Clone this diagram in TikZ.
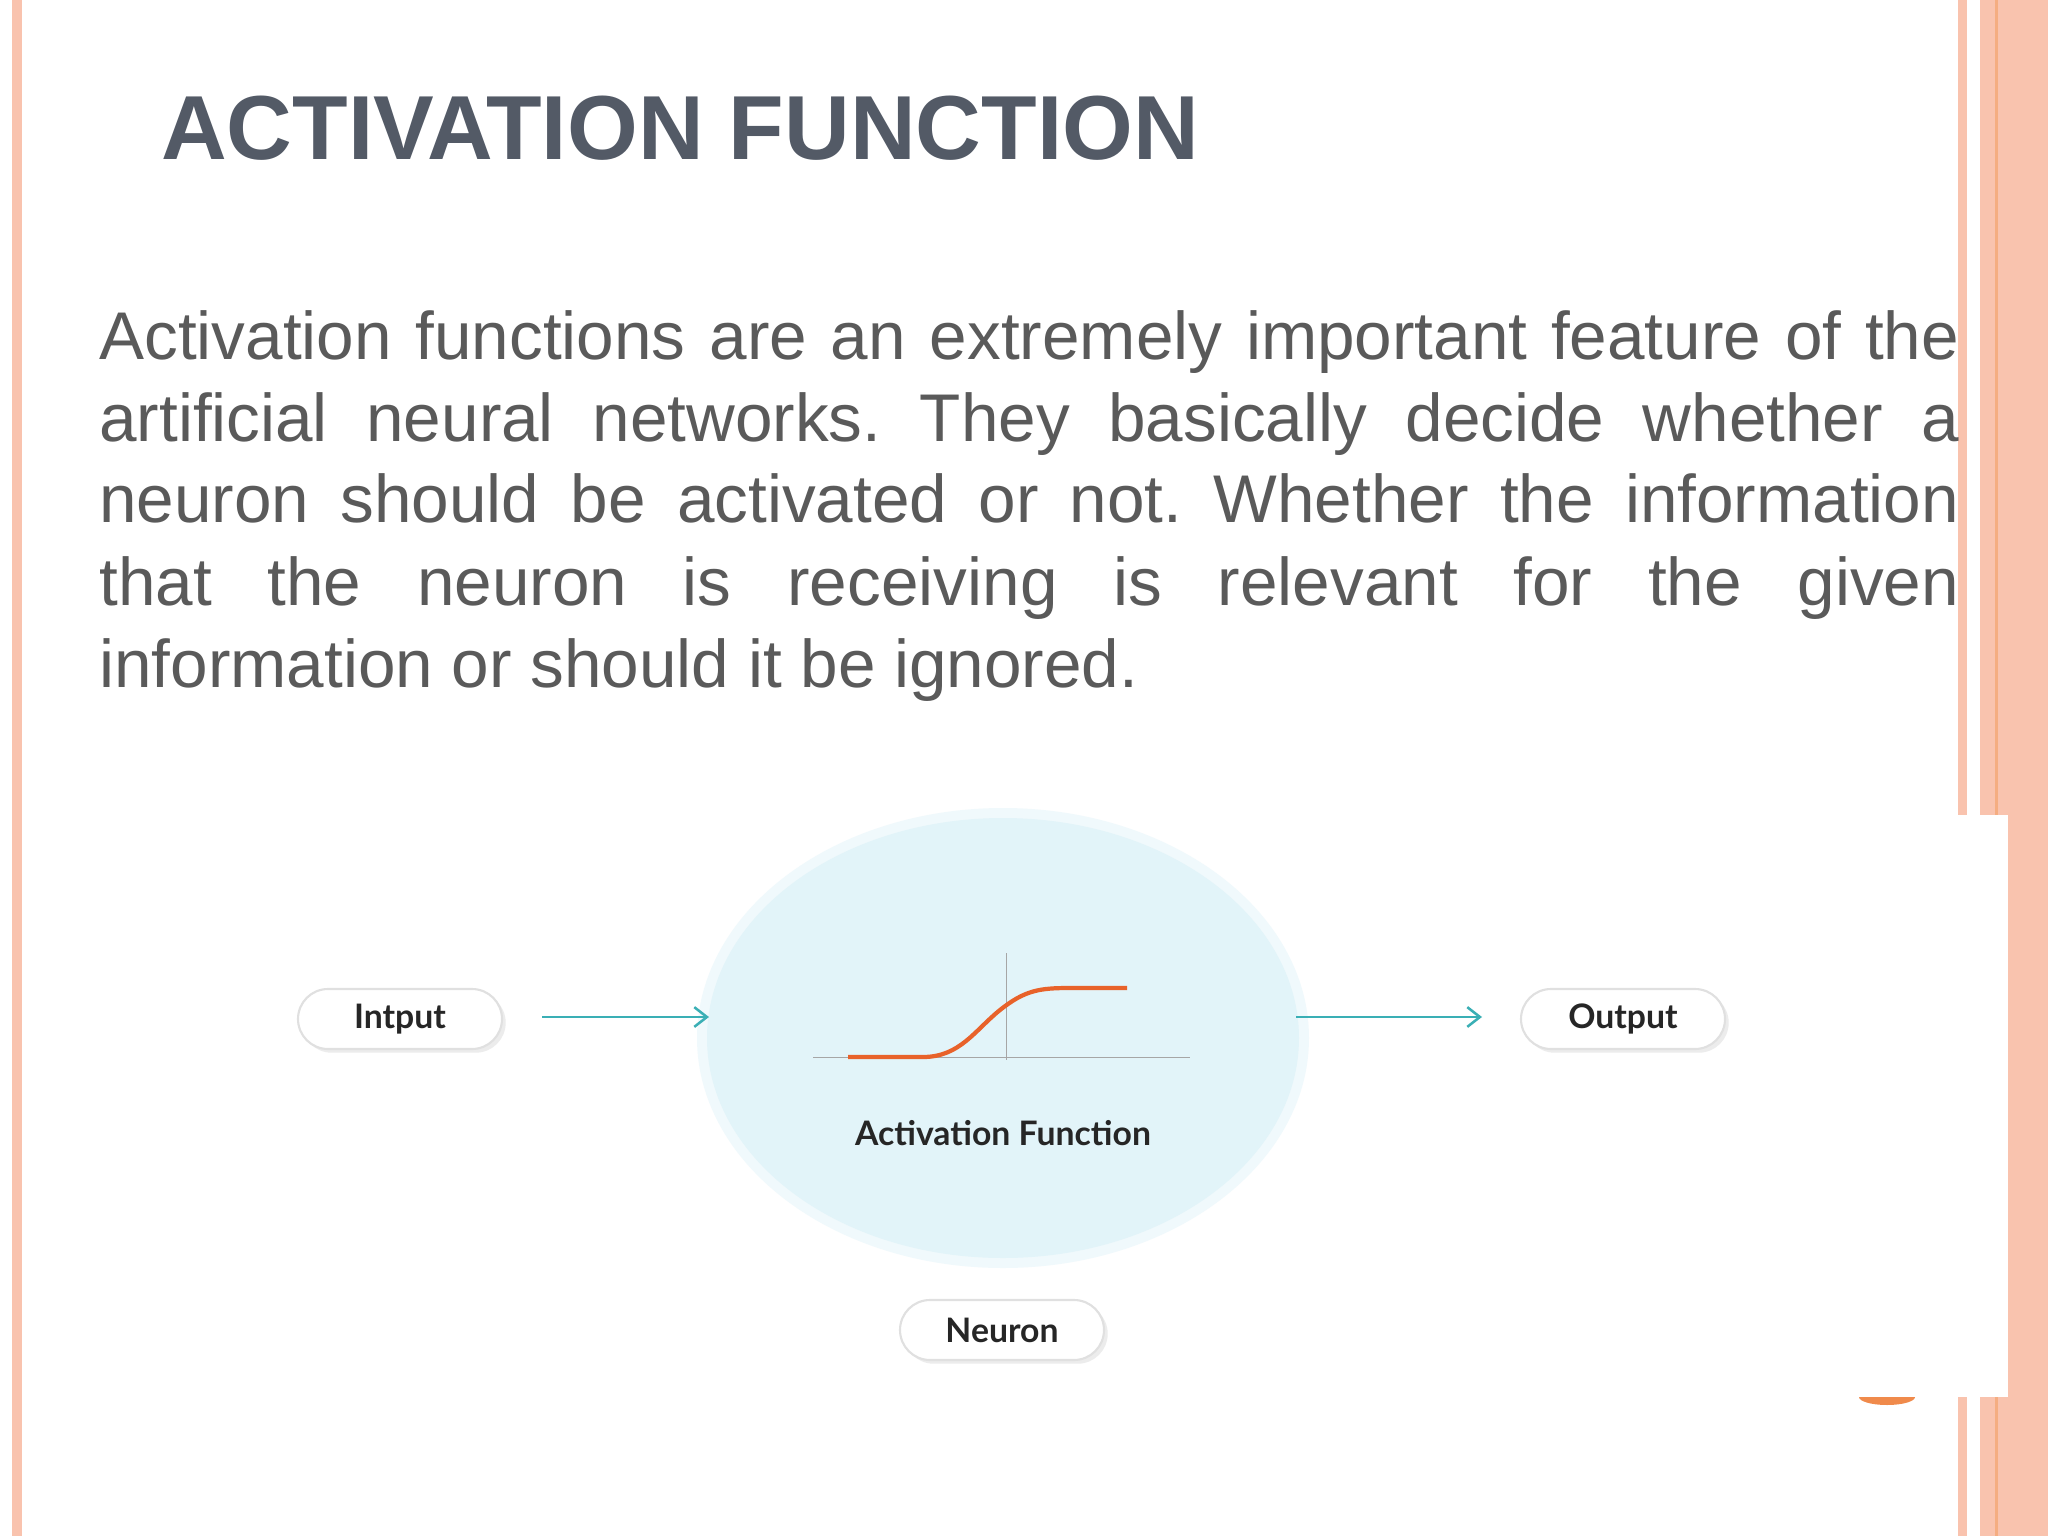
\documentclass[tikz,border=0pt]{standalone}
\usepackage{fontspec}
\usetikzlibrary{shadows,arrows.meta}
\setmainfont{Liberation Sans}
\newfontfamily\lato{Lato}
\frenchspacing
\definecolor{salmon}{HTML}{F9C3AE}
\definecolor{orng}{HTML}{F08A4B}
\definecolor{ttl}{HTML}{535A66}
\definecolor{bod}{HTML}{5A5A5A}
\definecolor{cyanbg}{HTML}{E2F4F9}
\definecolor{teal}{HTML}{3AAFB5}
\definecolor{curve}{HTML}{E8622A}
\begin{document}
\begin{tikzpicture}[x=0.25mm,y=-0.25mm,
  pill/.style={draw=black!12,line width=1.5pt,fill=white,rounded corners=30*0.7113pt,minimum width=204*0.7113pt,minimum height=60*0.7113pt,font=\lato\fontsize{24}{28}\selectfont\bfseries,text=black!85,drop shadow={opacity=0.15}},
  bodyline/.style={anchor=base west,inner sep=0,text=bod,font=\fontsize{48}{58}\selectfont},
  arr/.style={teal,line width=1.8pt,-{Straight Barb[length=9pt,width=14pt]}}]
\useasboundingbox (0,0) rectangle (2048,1536);
\fill[white] (0,0) rectangle (2048,1536);
% borders
\fill[salmon] (12,0) rectangle (22,1536);
\fill[salmon] (1958,0) rectangle (1967,1536);
\fill[salmon] (1980,0) rectangle (2048,1536);
\fill[orng!70] (1995,0) rectangle (1998,1536);
\fill[orng] (1887,1397) ellipse (28 and 8);
\fill[white] (1700,815) rectangle (2008,1397);
% title
\node[anchor=base west,inner sep=0,text=ttl,font=\fontsize{64.7}{74}\selectfont\bfseries] (title) at (161,159) {ACTIVATION FUNCTION};
% body
\node[bodyline] (l1) at (99,359) {\makebox[1323pt][s]{Activation functions are an extremely important feature of the}};
\node[bodyline] (l2) at (99,441) {\makebox[1323pt][s]{artificial neural networks. They basically decide whether a}};
\node[bodyline] (l3) at (99,522) {\makebox[1323pt][s]{neuron should be activated or not. Whether the information}};
\node[bodyline] (l4) at (99,605) {\makebox[1323pt][s]{that the neuron is receiving is relevant for the given}};
\node[bodyline] (l5) at (99,687) {information or should it be ignored.};
% neuron circle
\fill[cyanbg!50] (1003,1038) ellipse (306 and 230);
\fill[cyanbg] (1003,1038) ellipse (296 and 220);
\node[inner sep=0] (circ) at (1003,1038) {};
\draw[black!35,line width=0.6pt] (813,1057) -- (1190,1057);
\draw[black!35,line width=0.6pt] (1006,953) -- (1006,1060);
\draw[curve,line width=3pt] (848,1057) -- (923,1057) .. controls (960,1057) and (975,1030) .. (1000,1010) .. controls (1025,990) and (1040,988) .. (1070,988) -- (1127,988);
\node[font=\lato\fontsize{24}{28}\selectfont\bfseries,text=black!85] (af) at (1003,1133) {Activation Function};
% pills
\node[pill] (in) at (400,1019) {Intput};
\node[pill] (out) at (1623,1019) {Output};
\node[pill] (neu) at (1002,1330) {Neuron};
\coordinate (a1) at (542,1017);
\coordinate (a2) at (709,1017);
\coordinate (b1) at (1296,1017);
\coordinate (b2) at (1482,1017);
\draw[arr] (a1) -- (a2);
\draw[arr] (b1) -- (b2);
\end{tikzpicture}
\end{document}
